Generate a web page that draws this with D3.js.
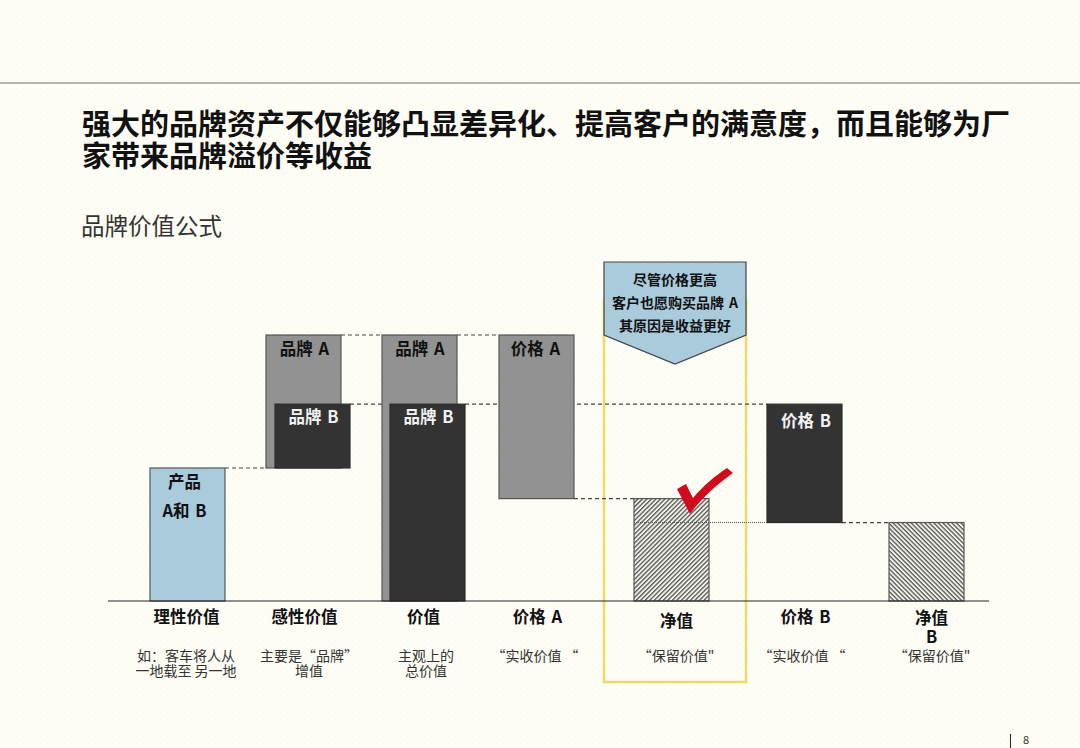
<!DOCTYPE html>
<html>
<head>
<meta charset="utf-8">
<script src="https://cdnjs.cloudflare.com/ajax/libs/d3/7.8.5/d3.min.js"></script>
<style>
  html, body { margin: 0; padding: 0; background: #fefef6; }
  svg { display: block; }
  text { font-family: "Noto Sans CJK SC", "Noto Sans", sans-serif; }
</style>
</head>
<body>
<svg width="1080" height="748"></svg>
<script>
// Text
const titleLines = [
  '强大的品牌资产不仅能够凸显差异化、提高客户的满意度\uFF0C而且能够为厂',
  '家带来品牌溢价等收益',
];
const subtitle = '品牌价值公式';
const calloutLines = ['尽管价格更高', '客户也愿购买品牌 A', '其原因是收益更好'];

// Categories along the axis and the notes below them
const categories = ['理性价值', '感性价值', '价值', '价格 A', '净值', '价格 B', '净值 B'];
const notes = [
  ['如\uFF1A客车将人从', '一地载至 另一地'],
  ['主要是“品牌”', '增值'],
  ['主观上的', '总价值'],
  ['“实收价值 “'],
  ['“保留价值"'],
  ['“实收价值 “'],
  ['“保留价值"'],
];

// Bars: values are an index where the product value is 100
const barIds = ['product', 'emoA', 'emoB', 'totalA', 'totalB', 'priceA', 'netA', 'priceB', 'netB'];
const barFrom = [0, 100, 100, 0, 0, 77, 0, 59, 0];
const barTo = [100, 200, 148, 200, 148, 200, 77, 148, 59];
const barKind = ['blue', 'gray', 'dark', 'gray', 'dark', 'gray', 'hatchA', 'dark', 'hatchB'];
const barLabels = [['产品', 'A和 B'], ['品牌 A'], ['品牌 B'], ['品牌 A'], ['品牌 B'], ['价格 A'], [], ['价格 B'], []];

// Dashed connectors between bars: from bar, to bar, value
const connectFrom = ['product', 'emoA', 'totalA', 'emoB', 'totalB', 'priceA', 'priceB'];
const connectTo = ['emoA', 'totalA', 'priceA', 'totalB', 'priceB', 'netA', 'netB'];
const connectValue = [100, 200, 200, 148, 148, 77, 59];

const svg = d3.select('svg');
const defs = svg.append('defs');

// Paper texture
const paper = defs.append('pattern').attr('id', 'paper')
  .attr('width', 6).attr('height', 6).attr('patternUnits', 'userSpaceOnUse');
paper.append('rect').attr('width', 6).attr('height', 6).attr('fill', '#fefef6');
paper.append('rect').attr('x', 1).attr('y', 1).attr('width', 1.5).attr('height', 1.5).attr('fill', '#f9f9ec');
paper.append('rect').attr('x', 4).attr('y', 4).attr('width', 1.5).attr('height', 1.5).attr('fill', '#f9f9ec');
svg.append('rect').attr('width', 1080).attr('height', 748).attr('fill', 'url(#paper)');

function hatch(id, angle) {
  const p = defs.append('pattern').attr('id', id)
    .attr('width', 3.2).attr('height', 3.2)
    .attr('patternUnits', 'userSpaceOnUse')
    .attr('patternTransform', 'rotate(' + angle + ')');
  p.append('rect').attr('width', 3.2).attr('height', 3.2).attr('fill', '#f2f2ea');
  p.append('rect').attr('width', 3.2).attr('height', 1.3).attr('fill', '#555');
}
hatch('hatchA', -45);
hatch('hatchB', 45);

const fills = { blue: '#a9cbdc', gray: '#929292', dark: '#333333', hatchA: 'url(#hatchA)', hatchB: 'url(#hatchB)' };

// Scales
const y = d3.scaleLinear().domain([0, 200]).range([601, 335]);
const barX = d3.scaleOrdinal().domain(barIds).range([150, 266, 275, 382, 390, 499, 634, 767, 889]);
const barW = 75;
const labelX = d3.scaleOrdinal().domain(categories).range([186, 304, 423, 537, 676, 805, 931]);
const noteX = d3.scaleOrdinal().domain(categories).range([186, 309, 426, 535, 676, 802, 932]);

// Header
const title = svg.append('text').attr('class', 'title')
  .attr('font-size', 29).attr('font-weight', 700).attr('fill', '#111');
title.selectAll('tspan').data(titleLines).join('tspan')
  .attr('x', 82).attr('y', (d, i) => 135 + i * 32)
  .text(d => d);
svg.append('line').attr('x1', 0).attr('x2', 1080).attr('y1', 83).attr('y2', 83)
  .attr('stroke', '#6e6e68').attr('stroke-width', 1);
svg.append('text').attr('x', 81).attr('y', 235)
  .attr('font-size', 23.5).attr('fill', '#333').text(subtitle);

// Highlight frame
svg.append('rect').attr('x', 604).attr('y', 300).attr('width', 142).attr('height', 382)
  .attr('fill', 'none').attr('stroke', '#efd867').attr('stroke-width', 2.5);

// Connectors
svg.selectAll('.connector').data(connectValue).join('line')
  .attr('class', 'connector')
  .attr('x1', (d, i) => barX(connectFrom[i]) + barW)
  .attr('x2', (d, i) => barX(connectTo[i]))
  .attr('y1', d => y(d)).attr('y2', d => y(d))
  .attr('stroke', '#444').attr('stroke-width', 1.2).attr('stroke-dasharray', '4 3');

// Bars
const bars = svg.selectAll('.bar').data(barIds).join('g').attr('class', 'bar');
bars.append('rect')
  .attr('x', d => barX(d))
  .attr('y', (d, i) => y(barTo[i]))
  .attr('width', barW)
  .attr('height', (d, i) => y(barFrom[i]) - y(barTo[i]))
  .attr('fill', (d, i) => fills[barKind[i]])
  .attr('stroke', (d, i) => (barKind[i] === 'dark' ? '#2c2c2c' : '#555'))
  .attr('stroke-width', 1.2);

// Thin dotted level across net A up to price B
svg.append('line').attr('x1', barX('netA')).attr('x2', barX('priceB'))
  .attr('y1', y(59)).attr('y2', y(59))
  .attr('stroke', '#555').attr('stroke-width', 1).attr('stroke-dasharray', '1 1');

// Bar labels
const labelDx = { product: -3, emoA: 1, emoB: 1, totalA: 0.5, totalB: 1, priceA: -1, priceB: 1.5 };
const labelDy = { product: 13, emoA: 13, emoB: 12, totalA: 13, totalB: 12, priceA: 13, priceB: 16 };
bars.each(function (id, i) {
  d3.select(this).selectAll('text').data(barLabels[i]).join('text')
    .attr('x', barX(id) + barW / 2 + (labelDx[id] || 0))
    .attr('y', (d, j) => y(barTo[i]) + labelDy[id] + j * 29)
    .attr('text-anchor', 'middle').attr('dominant-baseline', 'central')
    .attr('font-size', 16.5).attr('font-weight', 700).attr('word-spacing', 2)
    .attr('fill', barKind[i] === 'dark' ? '#f2f2f2' : '#111')
    .text(d => d);
});

// Callout
svg.append('path')
  .attr('d', d3.line()([[604, 262], [746, 262], [746, 335], [675, 364], [604, 335]]) + 'Z')
  .attr('fill', '#a9cbdc').attr('stroke', '#444').attr('stroke-width', 1.2);
svg.selectAll('.callout').data(calloutLines).join('text')
  .attr('class', 'callout')
  .attr('x', 675).attr('y', (d, i) => 279 + i * 23)
  .attr('text-anchor', 'middle').attr('dominant-baseline', 'central')
  .attr('font-size', 14).attr('font-weight', 700).attr('word-spacing', 2).attr('fill', '#111')
  .text(d => d);

// Check mark
svg.append('path')
  .attr('d', 'M677,489 L686,484 L693,498 C703,486 715,476 727,468 L733,473 C716,485 702,498 690,514 Z')
  .attr('fill', '#d20a1e');

// Axis
svg.append('line').attr('x1', 108).attr('x2', 989).attr('y1', y(0)).attr('y2', y(0))
  .attr('stroke', '#222').attr('stroke-width', 1.2);
const axis = svg.append('g')
  .attr('transform', 'translate(0,' + y(0) + ')')
  .call(d3.axisBottom(labelX).tickSize(0).tickPadding(0));
axis.select('.domain').remove();
const labelY = [15, 15, 15, 15, 19, 15, 16];
axis.selectAll('text')
  .attr('y', (d, i) => labelY[i]).attr('dy', null)
  .attr('dominant-baseline', 'central')
  .attr('font-family', '"Noto Sans CJK SC", sans-serif')
  .attr('font-size', 16.5).attr('font-weight', 700).attr('word-spacing', 2).attr('fill', '#111');
// last label wraps onto two lines
axis.selectAll('text').filter(d => d === '净值 B').each(function (d) {
  const t = d3.select(this).text(null);
  d.split(' ').forEach((part, j) => {
    t.append('tspan').attr('x', 0).attr('dy', j ? 19 : 0).text(part);
  });
});

// Notes
categories.forEach((c, i) => {
  const note = svg.append('text')
    .attr('text-anchor', 'middle').attr('dominant-baseline', 'central')
    .attr('font-size', 14).attr('fill', '#333');
  note.selectAll('tspan').data(notes[i]).join('tspan')
    .attr('x', noteX(c)).attr('y', (d, j) => 654.5 + j * 15.5)
    .text(d => d);
});

// Page number
svg.append('line').attr('x1', 1010.5).attr('x2', 1010.5).attr('y1', 734).attr('y2', 748)
  .attr('stroke', '#222').attr('stroke-width', 1);
svg.append('text').attr('x', 1026).attr('y', 739)
  .attr('text-anchor', 'middle').attr('dominant-baseline', 'central')
  .attr('font-size', 11).attr('fill', '#333').text('8');
</script>
</body>
</html>
